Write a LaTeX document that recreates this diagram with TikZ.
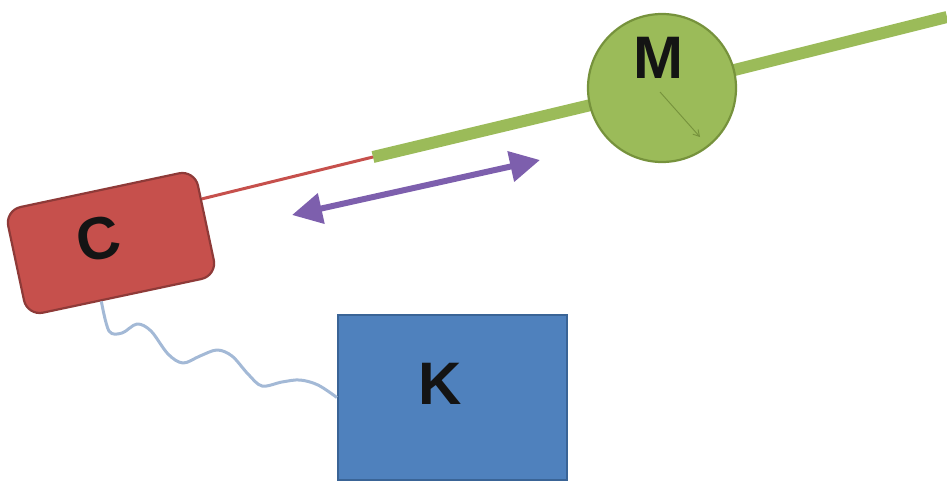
\documentclass[tikz,border=0pt]{standalone}
\usepackage{fontspec}
\setmainfont{Liberation Sans}
\usetikzlibrary{arrows.meta,calc}
\pgfdeclarelayer{background}
\pgfsetlayers{background,main}

\definecolor{cfill}{HTML}{C6504C}
\definecolor{cedge}{HTML}{8E3A38}
\definecolor{mfill}{HTML}{9BBB59}
\definecolor{medge}{HTML}{76923C}
\definecolor{kfill}{HTML}{4F81BD}
\definecolor{kedge}{HTML}{3A6496}
\definecolor{slider}{HTML}{7D5FAD}
\definecolor{wire}{HTML}{A3B9D6}

\begin{document}
\begin{tikzpicture}[x=1pt,y=-1pt,
    bigletter/.style={font=\fontsize{60}{60}\selectfont\bfseries, text=black!92},
    cbox/.style={draw=cedge, line width=2.2pt, fill=cfill, rounded corners=16pt,
                 minimum width=194pt, minimum height=108pt},
    mcircle/.style={circle, draw=medge, line width=2.2pt, fill=mfill,
                 minimum size=148pt, inner sep=0pt},
    kbox/.style={draw=kedge, line width=2.2pt, fill=kfill,
                 minimum width=229pt, minimum height=165pt},
    cable/.style={draw=cfill, line width=3pt},
    rod/.style={draw=mfill, line width=12pt},
    pointer/.style={draw=medge, line width=0.9pt, -{Straight Barb[length=6pt,width=7pt]}},
    travel/.style={draw=slider, line width=6pt,
                 {Triangle[length=30pt,width=30pt]}-{Triangle[length=30pt,width=30pt]}},
    wavy/.style={draw=wire, line width=3pt, line join=round}]

\useasboundingbox (0,0) rectangle (947,484);

% controller box, tilted
\node[cbox, rotate=12,
      label={[bigletter, rotate=12, xshift=-11pt, yshift=7pt]center:C}] (C) at (111,243) {};

% motor
\node[mcircle, label={[bigletter, xshift=-4pt, yshift=30pt]center:M}] (M) at (662,88) {};

% keyboard box
\node[kbox, label={[bigletter, xshift=-12pt, yshift=14pt]center:K}] (K) at (452.5,397.5) {};

% joints and end points
\coordinate (j) at (373,157);
\coordinate (e) at (947,17);
\coordinate (pa) at (292,215);
\coordinate (pb) at (540,160);

% thin lead from C to the rod
\draw[cable] ($(C.north east)!0.28!(C.south east)$) -- (j);

% rod passing behind the motor
\begin{pgfonlayer}{background}
  \draw[rod] (j) -- (M.center) -- (e);
\end{pgfonlayer}

% small pointer inside the motor
\draw[pointer] ($(M.center)+(-2,4)$) -- ($(M.center)+(38,49)$);

% travel arrow
\draw[travel] (pa) -- (pb);

% wire from C to K
\coordinate (s) at ($(C.south west)!0.39!(C.south east)$);
\draw[wavy] plot[smooth, tension=0.55] coordinates {
  (s) (109,331) (122,333) (137,324) (151,331) (168,354) (183,363)
  (200,356) (217,350) (232,356) (248,374) (262,386) (282,382)
  (300,380) (318,385) (K.west)};

\end{tikzpicture}
\end{document}
